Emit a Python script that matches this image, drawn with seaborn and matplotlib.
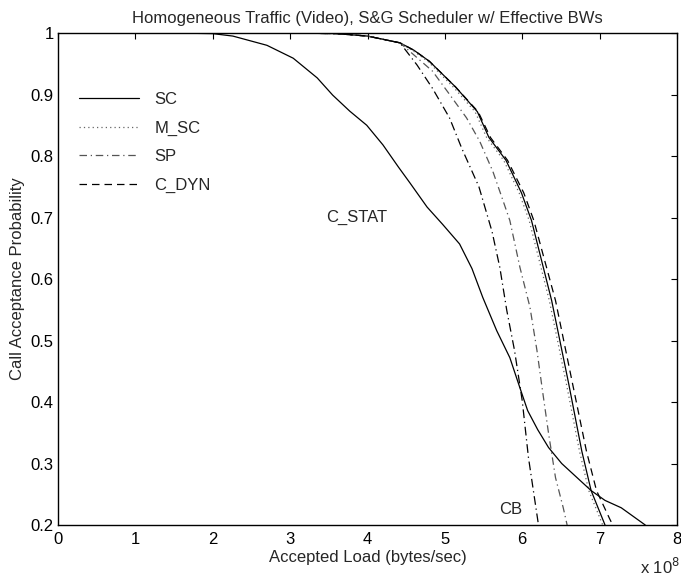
import matplotlib
matplotlib.use('Agg')
import matplotlib.pyplot as plt
import seaborn as sns
import pandas as pd

# 곡선 데이터 (x: 10^8 bytes/sec 단위)
sc_x = [0, 3.0, 3.6, 4.0, 4.42, 4.6, 4.8, 5.14, 5.42, 5.57, 5.79, 5.99, 6.12, 6.25, 6.38, 6.6, 6.77, 6.89, 7.07]
sc_y = [1, 1, 0.999, 0.995, 0.984, 0.972, 0.954, 0.912, 0.872, 0.83, 0.793, 0.74, 0.695, 0.63, 0.565, 0.43, 0.32, 0.256, 0.2]

msc_x = [0, 3.0, 3.6, 4.0, 4.42, 4.58, 4.78, 5.11, 5.39, 5.54, 5.76, 5.96, 6.09, 6.22, 6.35, 6.57, 6.74, 6.86, 7.04]
msc_y = [1, 1, 0.999, 0.995, 0.984, 0.972, 0.954, 0.912, 0.872, 0.83, 0.793, 0.74, 0.695, 0.63, 0.565, 0.43, 0.32, 0.256, 0.2]

sp_x = [0, 3.0, 3.6, 4.0, 4.42, 4.84, 5.05, 5.28, 5.45, 5.62, 5.75, 5.84, 5.97, 6.10, 6.19, 6.26, 6.34, 6.43, 6.53, 6.58]
sp_y = [1, 1, 0.999, 0.995, 0.984, 0.938, 0.902, 0.862, 0.824, 0.775, 0.728, 0.695, 0.619, 0.554, 0.484, 0.42, 0.349, 0.277, 0.228, 0.2]

cdyn_x = [0, 3.0, 3.6, 4.0, 4.42, 4.6, 4.8, 5.14, 5.43, 5.59, 5.81, 6.02, 6.15, 6.29, 6.43, 6.65, 6.83, 6.96, 7.13, 7.17]
cdyn_y = [1, 1, 0.999, 0.995, 0.984, 0.972, 0.954, 0.912, 0.872, 0.83, 0.793, 0.74, 0.695, 0.63, 0.565, 0.43, 0.32, 0.256, 0.21, 0.2]

cstat_x = [0, 1.5, 2.0, 2.26, 2.70, 3.04, 3.35, 3.55, 3.77, 3.99, 4.20, 4.40, 4.55, 4.77, 4.97, 5.19, 5.35, 5.49, 5.67, 5.84, 5.97, 6.07, 6.2, 6.34, 6.51, 6.89, 7.07, 7.28, 7.59]
cstat_y = [1, 1, 0.999, 0.995, 0.980, 0.959, 0.927, 0.899, 0.873, 0.85, 0.818, 0.782, 0.756, 0.717, 0.689, 0.657, 0.617, 0.570, 0.516, 0.472, 0.423, 0.386, 0.355, 0.326, 0.30, 0.256, 0.24, 0.228, 0.2]

cb_x = [0, 3.0, 3.6, 4.0, 4.42, 4.64, 4.84, 5.06, 5.22, 5.44, 5.61, 5.71, 5.80, 5.90, 6.0, 6.08, 6.21]
cb_y = [1, 1, 0.999, 0.995, 0.984, 0.948, 0.91, 0.862, 0.812, 0.75, 0.677, 0.619, 0.549, 0.484, 0.402, 0.31, 0.2]

x_ticks = [0, 1, 2, 3, 4, 5, 6, 7, 8]
y_ticks = [0.2, 0.3, 0.4, 0.5, 0.6, 0.7, 0.8, 0.9, 1.0]
y_tick_labels = ['0.2', '0.3', '0.4', '0.5', '0.6', '0.7', '0.8', '0.9', '1']

#----------------------------------------------------------------
sns.set_style('white')
plt.rcParams['font.family'] = ['Liberation Sans', 'DejaVu Sans']
fs = 12

fig = plt.figure(figsize=(6.81, 5.77), dpi=100)
ax = fig.add_axes([0.0852, 0.0901, 0.9089, 0.8527])

lw = 0.9
# (이름, x, y, 색, 선스타일, 범례표시)
series = [
    ('SC', sc_x, sc_y, 'black', '-', True),
    ('M_SC', msc_x, msc_y, '#666666', (0, (1, 2.5)), True),
    ('SP', sp_x, sp_y, '#555555', (0, (6, 3, 1, 3)), True),
    ('C_DYN', cdyn_x, cdyn_y, 'black', (0, (6, 4)), True),
    ('C_STAT', cstat_x, cstat_y, 'black', '-', False),
    ('CB', cb_x, cb_y, 'black', (0, (7, 3, 1, 3)), False),
]

handles = []
for name, xs, ys, col, ls, show in series:
    df = pd.DataFrame({'x': xs, 'y': ys})
    sns.lineplot(data=df, x='x', y='y', ax=ax, color=col, linewidth=lw,
                 estimator=None, sort=False, label=name if show else None)
    line = ax.get_lines()[-1]
    line.set_linestyle(ls)
    if show:
        handles.append(line)

ax.legend(handles=handles, labels=[h.get_label() for h in handles],
          loc='upper left', bbox_to_anchor=(0.01, 0.91), frameon=False,
          handlelength=3.6, handletextpad=0.9, labelspacing=0.8, fontsize=fs)

ax.text(3.86, 0.70, 'C_STAT', ha='center', va='center', fontsize=fs)
ax.text(5.85, 0.226, 'CB', ha='center', va='center', fontsize=fs)

ax.set_xlim(0, 8)
ax.set_ylim(0.2, 1.0)
ax.set_xticks(x_ticks)
ax.set_xticklabels([str(t) for t in x_ticks])
ax.set_yticks(y_ticks)
ax.set_yticklabels(y_tick_labels)
ax.tick_params(direction='in', length=4.5, width=0.8, top=True, right=True,
               labelsize=fs, colors='black')
ax.tick_params(axis='x', pad=5)
ax.tick_params(axis='y', pad=3)
for s in ax.spines.values():
    s.set_linewidth(1.0)
    s.set_color('black')

ax.set_xlabel('Accepted Load (bytes/sec)', fontsize=fs, labelpad=2)
ax.set_ylabel('Call Acceptance Probability', fontsize=fs, labelpad=4)
ax.set_title('Homogeneous Traffic (Video), S&G Scheduler w/ Effective BWs',
             fontsize=fs, pad=7)
fig.text(0.998, 1 - 567 / 577, 'x 10$^8$', ha='right', va='center', fontsize=fs)

fig.savefig('out.png', dpi=100)
